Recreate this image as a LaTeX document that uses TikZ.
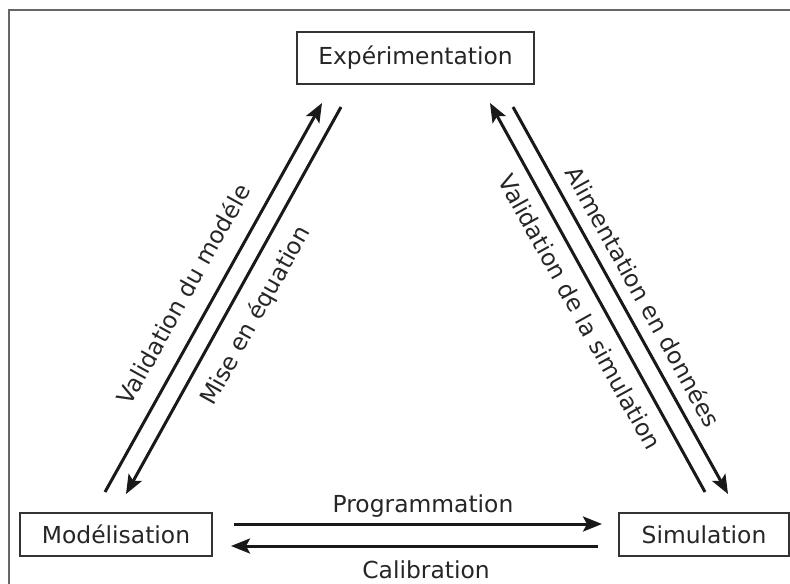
\documentclass[tikz,border=0pt]{standalone}
\usepackage{fontspec}
\setmainfont{DejaVu Sans}
\usetikzlibrary{arrows.meta}
\begin{document}
\begin{tikzpicture}[x=0.5pt,y=-0.5pt,
  box/.style={draw=black!80, line width=0.75pt, inner sep=0pt, font=\fontsize{11.7}{14}\selectfont, text=black!85},
  lbl/.style={font=\fontsize{11.7}{14}\selectfont, text=black!85, inner sep=0pt},
  arr/.style={line width=1.5pt, draw=black!90, -{Stealth[length=9.5pt,width=7.5pt,inset=2pt]}}]
\useasboundingbox (0,0) rectangle (790,583);
\clip (0,0) rectangle (790,583);
\draw[gray!80!black, line width=1pt] (9,10) rectangle (820,620);

\node[box, minimum width=118.5pt, minimum height=26pt] (exp) at (415.5,58) {Expérimentation};
\node[box, minimum width=96pt, minimum height=21.5pt] (mod) at (116,534.5) {Modélisation};
\node[box, minimum width=85pt, minimum height=21.5pt] (sim) at (704,534.5) {Simulation};

\coordinate (vm1) at (105,492);
\coordinate (vm2) at (322,103);
\coordinate (me1) at (341,107);
\coordinate (me2) at (126,494);
\coordinate (vs1) at (705,492);
\coordinate (vs2) at (490,103);
\coordinate (al1) at (513,107);
\coordinate (al2) at (728,494);
\coordinate (pr1) at (234,524);
\coordinate (pr2) at (602,524);
\coordinate (ca1) at (598,546);
\coordinate (ca2) at (231,546);

\draw[arr] (vm1) -- (vm2);
\draw[arr] (me1) -- (me2);
\draw[arr] (vs1) -- (vs2);
\draw[arr] (al1) -- (al2);
\draw[arr] (pr1) -- (pr2);
\draw[arr] (ca1) -- (ca2);

\node[lbl, rotate=60.85] (lvm) at (183,294) {Validation du modéle};
\node[lbl, rotate=60.85] (lme) at (256,316) {Mise en équation};
\node[lbl, rotate=-61.07] (lvs) at (580,312) {Validation de la simulation};
\node[lbl, rotate=-61.07] (lal) at (643.5,296.5) {Alimentation en données};
\node[lbl] (lpr) at (423,506) {Programmation};
\node[lbl] (lca) at (426,570) {Calibration};
\end{tikzpicture}
\end{document}
